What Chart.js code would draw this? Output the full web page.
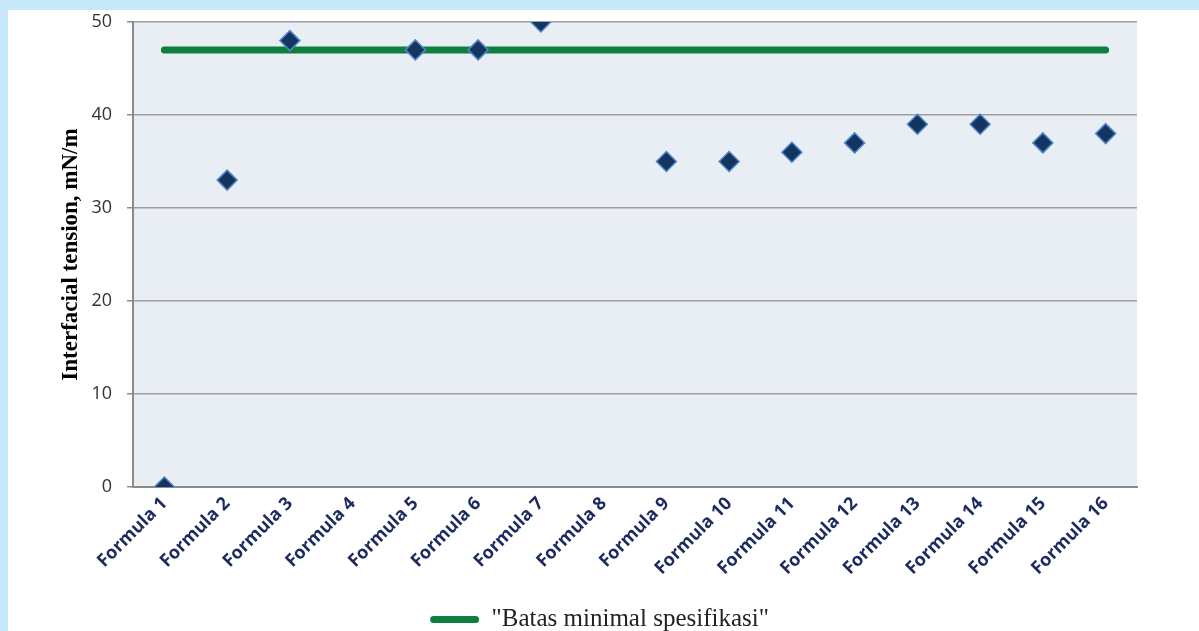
<!DOCTYPE html>
<html>
<head>
<meta charset="utf-8">
<script src="https://cdn.jsdelivr.net/npm/chart.js@4/dist/chart.umd.min.js"></script>
<style>
  html, body { margin: 0; padding: 0; background: #ffffff; }
  #wrap { width: 1199px; height: 631px; position: relative; }
</style>
</head>
<body>
<div id="wrap"><canvas id="chart"></canvas></div>
<script>
// Formulas tested
const categories = ['Formula 1', 'Formula 2', 'Formula 3', 'Formula 4', 'Formula 5', 'Formula 6',
  'Formula 7', 'Formula 8', 'Formula 9', 'Formula 10', 'Formula 11', 'Formula 12',
  'Formula 13', 'Formula 14', 'Formula 15', 'Formula 16'];

// Measured interfacial tension (mN/m); Formula 4 and 8 have no reading
const tensionValues = [0, 33, 48, null, 47, 47, 50, null, 35, 35, 36, 37, 39, 39, 37, 38];

// Minimum specification limit
const specLimit = [47, 47, 47, 47, 47, 47, 47, 47, 47, 47, 47, 47, 47, 47, 47, 47];
const specLabel = '"Batas minimal spesifikasi"';

const yTicks = [0, 10, 20, 30, 40, 50];

// Page frame and plot background
const framePlugin = {
  id: 'frame',
  beforeDraw(chart) {
    const ctx = chart.ctx;
    const { left, top, right, bottom } = chart.chartArea;
    ctx.save();
    ctx.fillStyle = '#c6e8f8';
    ctx.fillRect(0, 0, chart.width, chart.height);
    ctx.fillStyle = '#ffffff';
    ctx.fillRect(8, 10, chart.width - 8, chart.height - 10);
    ctx.fillStyle = '#e9edf4';
    ctx.fillRect(left, top, right - left, bottom - top);
    ctx.restore();
  }
};

new Chart(document.getElementById('chart'), {
  type: 'line',
  data: {
    labels: categories,
    datasets: [
      {
        label: 'Interfacial tension',
        data: tensionValues,
        showLine: false,
        pointStyle: 'rectRot',
        pointRadius: 10,
        pointHoverRadius: 10,
        pointBackgroundColor: '#13355f',
        pointBorderColor: '#4f86c6',
        pointBorderWidth: 1.5,
        order: 0
      },
      {
        label: specLabel,
        data: specLimit,
        borderColor: '#0f7f40',
        backgroundColor: '#0f7f40',
        borderWidth: 7,
        borderCapStyle: 'round',
        pointRadius: 0,
        pointHoverRadius: 0,
        fill: false,
        order: 1
      }
    ]
  },
  options: {
    responsive: true,
    maintainAspectRatio: false,
    animation: false,
    layout: { padding: { left: 0, top: 22, right: 0, bottom: -11 } },
    plugins: {
      tooltip: { enabled: false },
      legend: {
        position: 'bottom',
        labels: {
          filter: (item) => item.datasetIndex === 1,
          boxWidth: 49,
          boxHeight: 7,
          padding: 12,
          color: '#222222',
          font: { family: '"Liberation Serif", "Times New Roman", serif', size: 25 },
          generateLabels(chart) {
            const ds = chart.data.datasets[1];
            return [{
              text: ds.label,
              datasetIndex: 1,
              fillStyle: ds.borderColor,
              strokeStyle: ds.borderColor,
              lineWidth: 0,
              borderRadius: 3.5,
              fontColor: '#222222'
            }];
          }
        }
      }
    },
    scales: {
      x: {
        type: 'category',
        offset: true,
        grid: { display: false, drawTicks: false },
        border: { display: true, color: '#8c8c8c', width: 2 },
        ticks: {
          autoSkip: false,
          maxRotation: 45,
          minRotation: 45,
          padding: 6,
          color: '#1c2a5e',
          font: { family: '"Open Sans", sans-serif', size: 18, weight: 'bold' }
        },
        afterFit(scale) { scale.height = 108; }
      },
      y: {
        min: 0,
        max: 50,
        afterBuildTicks(scale) { scale.ticks = yTicks.map(v => ({ value: v })); },
        grid: { color: '#a0a0a0', lineWidth: 1.5, tickLength: 6, drawTicks: true, tickColor: '#8c8c8c' },
        border: { display: true, color: '#8c8c8c', width: 2 },
        ticks: {
          padding: 15,
          color: '#333333',
          font: { family: '"Open Sans", sans-serif', size: 18 }
        },
        title: {
          display: true,
          text: 'Interfacial tension, mN/m',
          color: '#000000',
          padding: { top: 57, bottom: 0 },
          font: { family: '"Liberation Serif", "Times New Roman", serif', size: 23, weight: 'bold' }
        },
        afterFit(scale) {
          scale.width = 133;
          scale.paddingTop = 0;
          scale.paddingBottom = 0;
        }
      },
      // empty right-hand margin so the legend centres on the whole page
      yRight: {
        position: 'right',
        display: true,
        grid: { display: false, drawTicks: false },
        border: { display: false },
        ticks: { display: false },
        afterFit(scale) {
          scale.width = 62;
          scale.paddingTop = 0;
          scale.paddingBottom = 0;
        }
      }
    }
  },
  plugins: [framePlugin]
});
</script>
</body>
</html>
